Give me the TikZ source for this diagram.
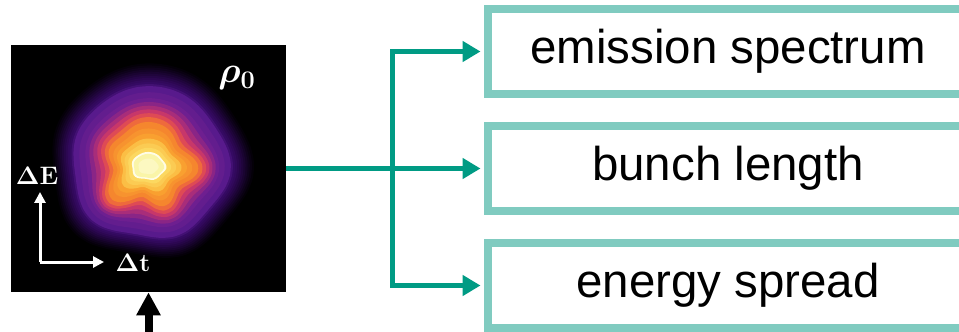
\documentclass[tikz,border=0pt]{standalone}
\usepackage[no-math]{fontspec}
\usepackage{bm}
\usepackage{tikz}
\usetikzlibrary{positioning, arrows.meta}
\newfontfamily\boxfont{Liberation Sans}
\definecolor{branch}{HTML}{009B84}
\definecolor{boxline}{HTML}{80CBC0}
% density colour scale
\definecolor{p1}{HTML}{3A0C6A}
\definecolor{p2}{HTML}{581A8C}
\definecolor{p3}{HTML}{6E1F90}
\definecolor{p4}{HTML}{8A2586}
\definecolor{m1}{HTML}{A82D7A}
\definecolor{m2}{HTML}{C7376A}
\definecolor{r1}{HTML}{DE4A55}
\definecolor{r2}{HTML}{EE6A3C}
\definecolor{o1}{HTML}{F5862E}
\definecolor{o2}{HTML}{F9A030}
\definecolor{y1}{HTML}{FBBE45}
\definecolor{y2}{HTML}{FCD860}
\definecolor{w1}{HTML}{FAF5A8}
\definecolor{w2}{HTML}{FFFDE6}

\begin{document}
\begin{tikzpicture}[
    x=0.02cm, y=-0.02cm,
    output/.style={rectangle, draw=boxline, line width=0.16cm, fill=white, minimum width=9.6cm, minimum height=1.7cm, font=\boxfont\fontsize{27}{30}\selectfont},
    branchline/.style={-{Triangle[length=0.36cm, width=0.4cm]}, branch, line width=0.1cm},
    axisline/.style={-{Triangle[length=0.22cm, width=0.22cm]}, white, line width=0.06cm},
    axislabel/.style={white, font=\fontsize{15}{17}\selectfont},
    inarrow/.style={-{Triangle[length=0.46cm, width=0.46cm]}, black, line width=0.16cm},
]
\clip (0,0) rectangle (959,331);

% phase space image
\node[fill=black, minimum width=5.5cm, minimum height=4.94cm, inner sep=0pt] (rho) at (148.5,168.5) {};

% density contours
\foreach \R/\col/\op in {
    100/p1/0.08, 98/p1/0.1, 96/p1/0.12, 94/p1/0.14, 92/p1/0.17, 90/p1/0.2,
    88/p1/0.25, 86/p1/0.3, 84/p1/0.4, 82/p1/0.55, 80/p1!60!p2/0.8,
    78/p2/1, 72/p2!50!p3/1, 66/p3/1, 62/p4/1, 58/m1/1,
    54/m2/1, 50/r1/1, 46/r2/1, 42/o1/1, 37/o1!50!o2/1, 33/o2/1,
    29/y1/1, 25/y1!50!y2/1, 21/y2/1, 17/w2/1, 15/w1/1, 10/w1!60!w2/1} {
  \pgfmathsetmacro\a{0.03+0.1*exp(-((\R-40)/18)^2)}
  \pgfmathsetmacro\cx{148+2*\R/100}
  \pgfmathsetmacro\cy{167-5*\R/100}
  \pgfmathsetmacro\ys{0.72+0.25*min(1,\R/45)}
  \fill[\col, fill opacity=\op] plot[smooth cycle, samples=40, domain=0:351, variable=\t]
    ({\cx + \R*(1 + \a*(0.6*sin(3*\t+40) + 0.8*sin(5*\t+110) + 0.5*sin(6*\t+20)))*cos(\t)},
     {\cy + \ys*\R*(1 + \a*(0.6*sin(3*\t+40) + 0.8*sin(5*\t+110) + 0.5*sin(6*\t+20)))*sin(\t)});
}

\node[white, font=\fontsize{22}{24}\selectfont] (rholabel) at (237,78) {$\bm{\rho}_{\mathbf{0}}$};

% axes
\coordinate (origin) at (40,262);
\coordinate (Etip) at (40,192);
\coordinate (ttip) at (104,262);
\draw[axisline] (origin) -- (Etip);
\draw[axisline] (origin) -- (ttip);
\node[axislabel] (dE) at (37,176) {$\bm{\Delta}\mathbf{E}$};
\node[axislabel] (dt) at (133,263) {$\bm{\Delta}\mathbf{t}$};

% input
\coordinate (input) at (148.5,345);
\draw[inarrow] (input) -- (rho.south);

% outputs
\node[output] (spectrum) at (728,51.5) {emission spectrum};
\node[output] (length) at (728,168.5) {bunch length};
\node[output] (spread) at (728,285.5) {energy spread};

\coordinate (split) at (392,168.5);
\draw[branchline, shorten >=0.07cm] (rho.east) -- (length.west);
\draw[branchline, shorten >=0.07cm] (split) |- (spectrum.west);
\draw[branchline, shorten >=0.07cm] (split) |- (spread.west);

\end{tikzpicture}
\end{document}
